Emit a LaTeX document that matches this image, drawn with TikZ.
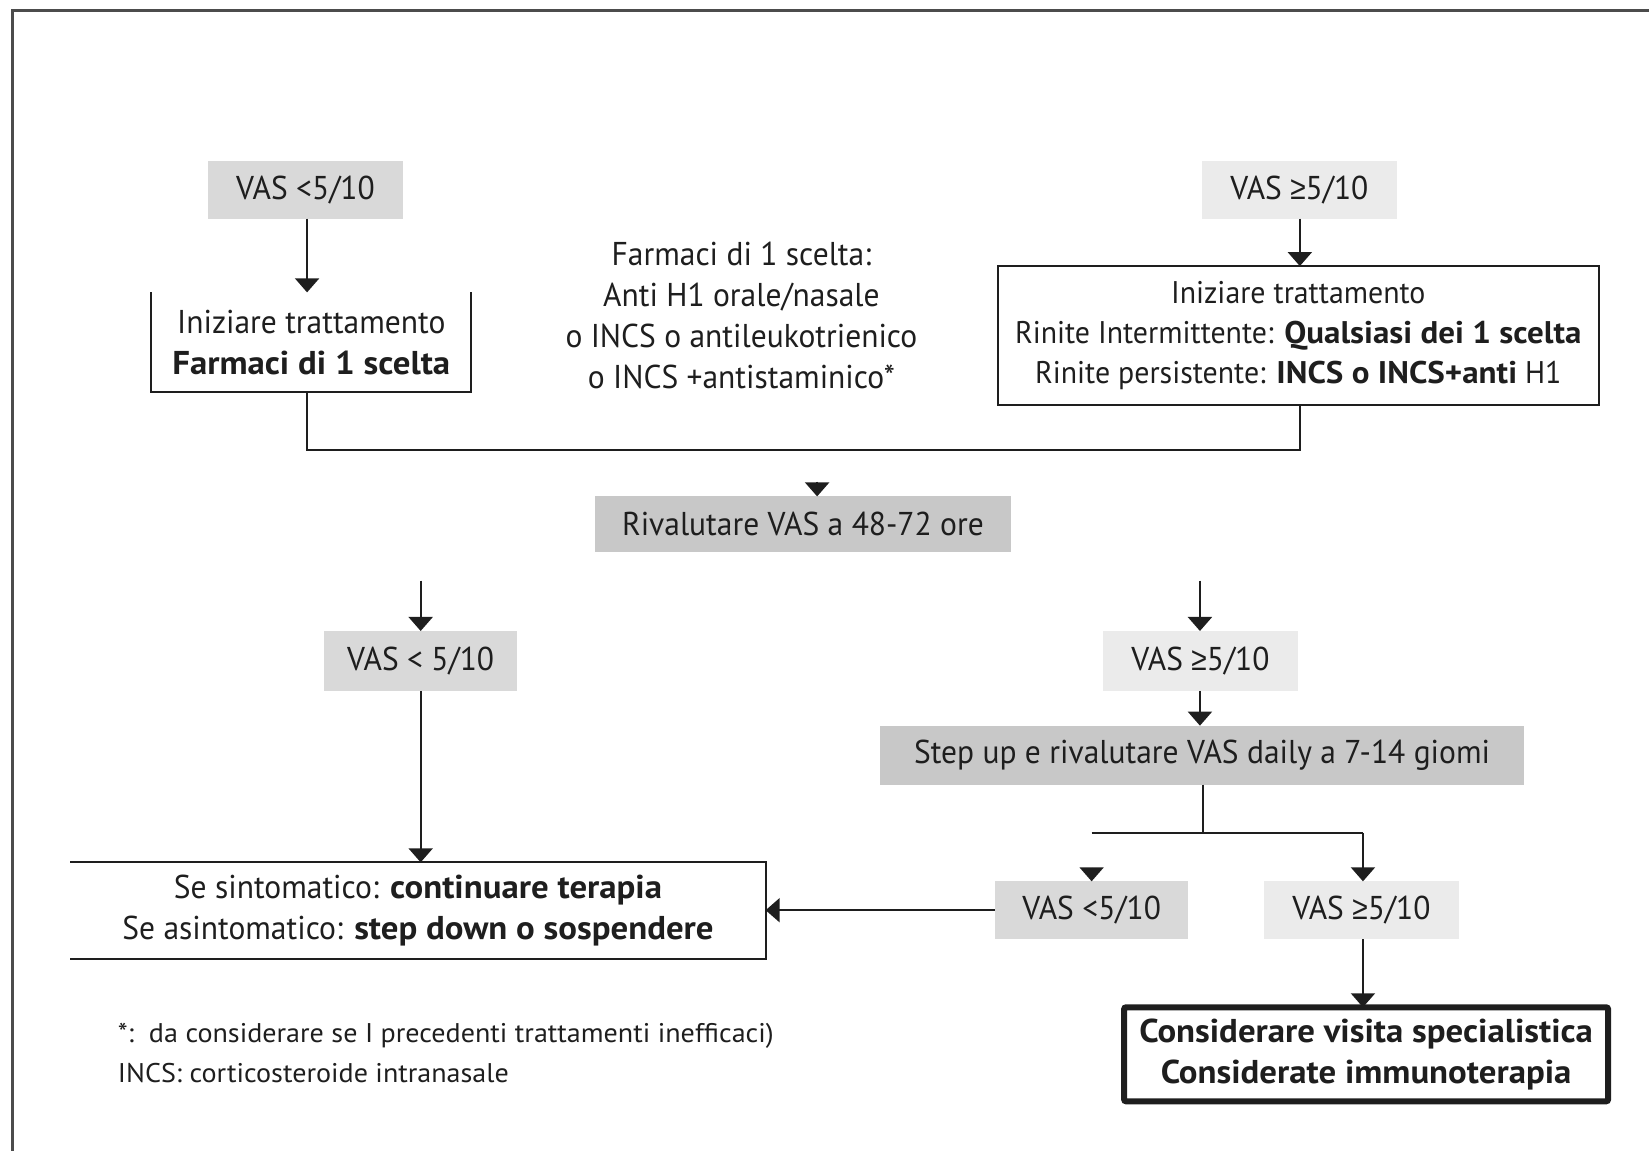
\documentclass[tikz,border=0pt]{standalone}
\usepackage{fontspec}
\setmainfont{PT Sans}[FakeStretch=0.955, BoldFeatures={FakeStretch=1.055}]
\newfontfamily\notefont{PT Sans}[FakeStretch=1.04]
\newfontfamily\relfont{Liberation Sans}[FakeStretch=0.85]
\newcommand{\geqsign}{{\relfont ≥}}
\usetikzlibrary{arrows.meta}
\definecolor{boxdark}{HTML}{C8C8C8}
\definecolor{boxmid}{HTML}{D9D9D9}
\definecolor{boxlight}{HTML}{EBEBEB}
\definecolor{ink}{HTML}{1E1E1E}
\tikzset{
  base/.style={inner sep=0pt, outer sep=0pt, align=center, text=ink,
    font=\fontsize{33}{41}\selectfont},
  dk/.style={base, fill=boxdark},
  md/.style={base, fill=boxmid},
  lt/.style={base, fill=boxlight},
  framed/.style={base, draw=ink, line width=2pt},
  link/.style={draw=ink, line width=2pt},
  arr/.style={link, -{Triangle[width=24pt,length=14pt]}},
  note/.style={inner sep=0pt, anchor=west, text=ink,
    font=\notefont\fontsize{27}{35}\selectfont, align=left},
}
\begin{document}
\begin{tikzpicture}[x=1.0517pt, y=-1.0517pt]
\useasboundingbox (0,0) rectangle (1568,1094);
% page frame (top and left rules)
\draw[gray!60!black, line width=3pt] (12,1094) -- (12,10) -- (1568,10);

% first row
\node[md, minimum width=194.6pt, minimum height=57.8pt] (a1) at (290.5,180.5) {VAS <5/10};
\node[lt, minimum width=194.6pt, minimum height=57.8pt] (b1) at (1235.5,180.5) {VAS \geqsign5/10};

\node[base, minimum width=319.7pt, minimum height=99.9pt] (a2) at (296,325.5)
  {Iniziare trattamento\\\textbf{Farmaci di 1 scelta}};
\draw[link] (a2.north west) -- (a2.south west) -- (a2.south east) -- (a2.north east);

\node[base] (mid) at (705,300)
  {Farmaci di 1 scelta:\\Anti H1 orale/nasale\\o INCS o antileukotrienico\\o INCS +antistaminico*};

\node[framed, minimum width=600.5pt, minimum height=138.8pt,
      font=\fontsize{31.3}{40}\selectfont] (b2) at (1234.5,319)
  {Iniziare trattamento\\
   Rinite Intermittente: \textbf{Qualsiasi dei 1 scelta}\\
   Rinite persistente: \textbf{INCS o INCS+anti} H1};

\coordinate (aout) at (292,208);
\draw[arr] (aout) -- (aout |- a2.north);
\coordinate (bout) at (1236,208);
\draw[arr] (bout) -- (bout |- b2.north);

% merge of the two branches
\coordinate (mL) at (292,428);
\coordinate (mR) at (1236,428);
\draw[link] (mL |- a2.south) -- (mL) -- (mR) -- (mR |- b2.south);

\node[dk, minimum width=415.4pt, minimum height=55.7pt] (r) at (763.5,498.5) {Rivalutare VAS a 48-72 ore};
\coordinate (rin) at (777,458);
\draw[arr] (rin) -- (rin |- r.north);

% second row
\node[md, minimum width=193.5pt, minimum height=60pt] (c1) at (400,628.5) {VAS < 5/10};
\node[lt, minimum width=194.6pt, minimum height=60pt] (d1) at (1141.5,628.5) {VAS \geqsign5/10};
\coordinate (cin) at (400,552);
\coordinate (din) at (1141,552);
\draw[arr] (cin) -- (c1.north);
\draw[arr] (din) -- (din |- d1.north);

\node[dk, minimum width=643.6pt, minimum height=58.9pt] (s) at (1143,718)
  {Step up e rivalutare VAS daily a 7-14 giomi};
\draw[arr] (d1.south -| din) -- (din |- s.north);

\node[md, minimum width=193.5pt, minimum height=57.8pt] (e1) at (1038,865.5) {VAS <5/10};
\node[lt, minimum width=194.6pt, minimum height=57.8pt] (e2) at (1294.5,865.5) {VAS \geqsign5/10};

\coordinate (sp) at (1144,792);
\coordinate (spL) at (1038,792);
\coordinate (spR) at (1296,792);
\coordinate (ein) at (1038,825);
\draw[link] (s.south -| sp) -- (sp);
\draw[link] (spL) -- (spR);
\draw[arr] (spR) -- (spR |- e2.north);
\draw[arr] (ein) -- (e1.north);

\node[base, minimum width=695.2pt, minimum height=96.8pt] (l) at (397.5,866)
  {Se sintomatico: \textbf{continuare terapia}\\
   Se asintomatico: \textbf{step down o sospendere}};
\draw[link] (l.north west) -- (l.north east) -- (l.south east) -- (l.south west);

\draw[arr] (c1.south) -- (c1.south |- l.north);
\draw[arr] (e1.west) -- (l.east |- e1.west);

\node[base, draw=ink, line width=6pt, rounded corners=2pt,
      minimum width=484pt, minimum height=94pt] (f) at (1299,1002.5)
  {\textbf{Considerare visita specialistica}\\\textbf{Considerate immunoterapia}};
\draw[arr] (spR |- e2.south) -- (spR |- f.north);

% footnotes
\node[note] (n1) at (112,985) {*:\ \ da considerare se I precedenti trattamenti inefficaci)};
\node[note] (n2) at (112,1020) {INCS: corticosteroide intranasale};
\end{tikzpicture}
\end{document}
